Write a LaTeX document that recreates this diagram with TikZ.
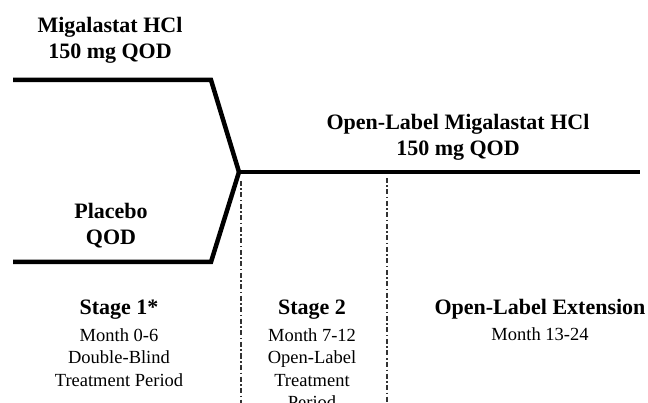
\documentclass[tikz,border=0pt]{standalone}
\usepackage{fontspec}
\setmainfont{Liberation Serif}
\usetikzlibrary{positioning}
\definecolor{armline}{HTML}{000000}
\definecolor{stagesep}{HTML}{333333}

\begin{document}
\begin{tikzpicture}[x=1pt, y=-1pt,
    every node/.style={inner sep=0pt, align=center},
    armlabel/.style={font=\bfseries\fontsize{22}{26.5}\selectfont},
    stagetitle/.style={font=\bfseries\fontsize{22}{26}\selectfont, anchor=base},
    stagebody/.style={font=\fontsize{18.5}{22.5}\selectfont, below=8pt of #1},
    arm/.style={line width=4.5pt, color=armline, line join=miter},
    stageline/.style={line width=1.3pt, color=stagesep, dash pattern=on 5pt off 2.5pt on 1.5pt off 2.5pt}]
        \useasboundingbox (0,0) rectangle (648,403);
        % arms merging into the open-label phase
        \coordinate (drugstart) at (13,80);
        \coordinate (drugbend) at (211,80);
        \coordinate (placebostart) at (13,262);
        \coordinate (placebobend) at (211,262);
        \coordinate (apex) at (239,172);
        \coordinate (olend) at (640,172);
        \draw[arm] (drugstart) -- (drugbend) -- (apex);
        \draw[arm] (placebostart) -- (placebobend) -- (apex);
        \draw[arm] (apex) -- (olend);
        \node[armlabel, anchor=north] (drug) at (110,17) {Migalastat HCl\\150 mg QOD};
        \node[armlabel, anchor=north] (placebo) at (111,203) {Placebo\\QOD};
        \node[armlabel, anchor=north] (openlabel) at (458,114) {Open-Label Migalastat HCl\\150 mg QOD};
        % stage boundaries
        \coordinate (sepatop) at (241,181);
        \coordinate (sepabot) at (241,403);
        \coordinate (sepbtop) at (387,178);
        \coordinate (sepbbot) at (387,403);
        \draw[stageline] (sepatop) -- (sepabot);
        \draw[stageline] (sepbtop) -- (sepbbot);
        \node[stagetitle] (stage1) at (119,315) {Stage 1*};
        \node[stagebody=stage1] (stage1txt) {Month 0-6\\Double-Blind\\Treatment Period};
        \node[stagetitle] (stage2) at (312,315) {Stage 2};
        \node[stagebody=stage2] (stage2txt) {Month 7-12\\Open-Label\\Treatment\\Period};
        \node[stagetitle] (ole) at (540,315) {Open-Label Extension};
        \node[stagebody=ole] (oletxt) {Month 13-24};
      \end{tikzpicture}
\end{document}
